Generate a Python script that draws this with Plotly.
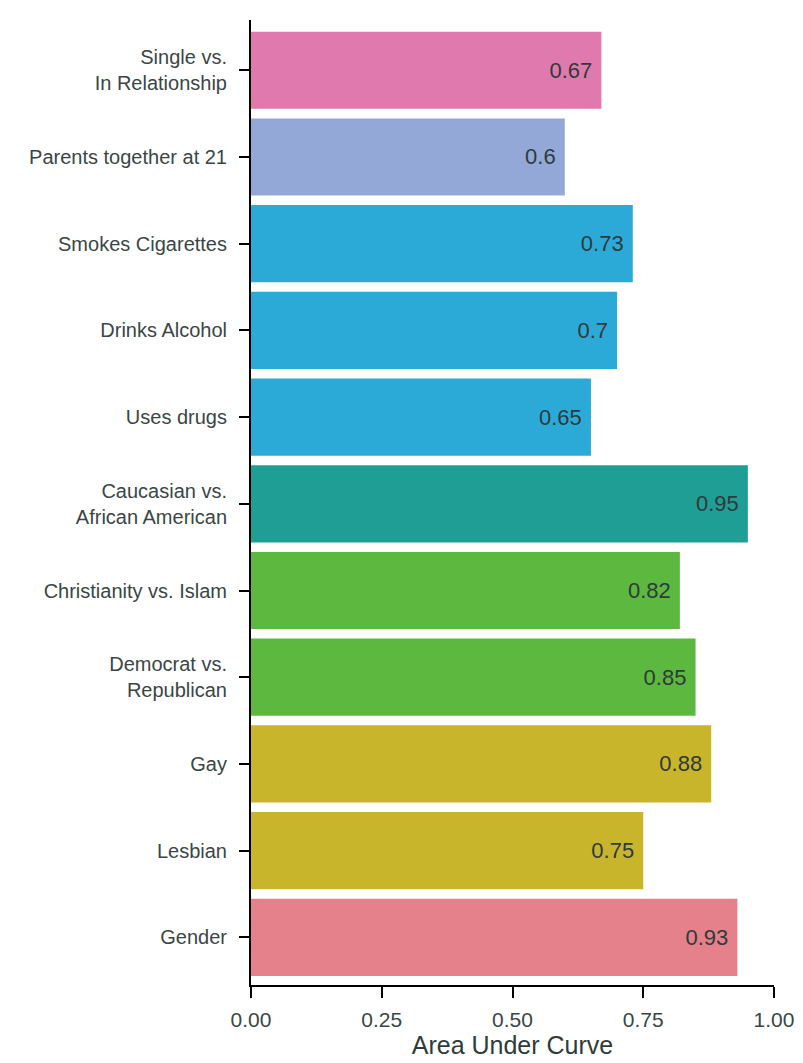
import plotly.graph_objects as go

categories = ["Single vs.<br>In Relationship", "Parents together at 21", "Smokes Cigarettes",
              "Drinks Alcohol", "Uses drugs", "Caucasian vs.<br>African American",
              "Christianity vs. Islam", "Democrat vs.<br>Republican", "Gay", "Lesbian", "Gender"]
values = [0.67, 0.60, 0.73, 0.70, 0.65, 0.95, 0.82, 0.85, 0.88, 0.75, 0.93]
labels = ["0.67", "0.6", "0.73", "0.7", "0.65", "0.95", "0.82", "0.85", "0.88", "0.75", "0.93"]
colors = ["#E07AAE", "#93A8D6", "#2BAAD8", "#2BAAD8", "#2BAAD8", "#1F9E96",
          "#5CB83F", "#5CB83F", "#C9B52C", "#C9B52C", "#E5818A"]
x_ticks = [0, 0.25, 0.5, 0.75, 1.0]
x_ticklabels = ["0.00", "0.25", "0.50", "0.75", "1.00"]

fig = go.Figure(go.Bar(
    x=values, y=categories, orientation="h",
    marker=dict(color=colors, line=dict(width=0)),
    text=[t + "\u00a0" for t in labels], textposition="inside", insidetextanchor="end",
    textfont=dict(family="Liberation Sans, Arial", size=22, color="#2f3a3a"),
    cliponaxis=False,
))

fig.update_layout(
    width=795, height=1055,
    margin=dict(l=243, r=29, t=12, b=78),
    paper_bgcolor="white", plot_bgcolor="white",
    bargap=0.11,
    showlegend=False,
    font=dict(family="Liberation Sans, Arial", color="#3a4646"),
    xaxis=dict(
        range=[0, 1.0], tickvals=x_ticks, ticktext=x_ticklabels,
        showgrid=False, zeroline=False,
        showline=True, linecolor="black", linewidth=2,
        ticks="outside", ticklen=11, tickwidth=2, tickcolor="black",
        ticklabelstandoff=4,
        tickfont=dict(size=21, color="#3a4646"),
        title=dict(text="Area Under Curve", font=dict(size=25, color="#2f3a3a"), standoff=4),
        automargin=False,
    ),
    yaxis=dict(
        type="category", categoryorder="array", categoryarray=categories,
        range=[10.55, -0.58],
        showgrid=False, zeroline=False,
        showline=True, linecolor="black", linewidth=2,
        ticks="outside", ticklen=10, tickwidth=2, tickcolor="black",
        ticklabelstandoff=8,
        tickfont=dict(size=20, color="#3a4646"),
        automargin=False,
    ),
)

fig.write_html("out.html")
